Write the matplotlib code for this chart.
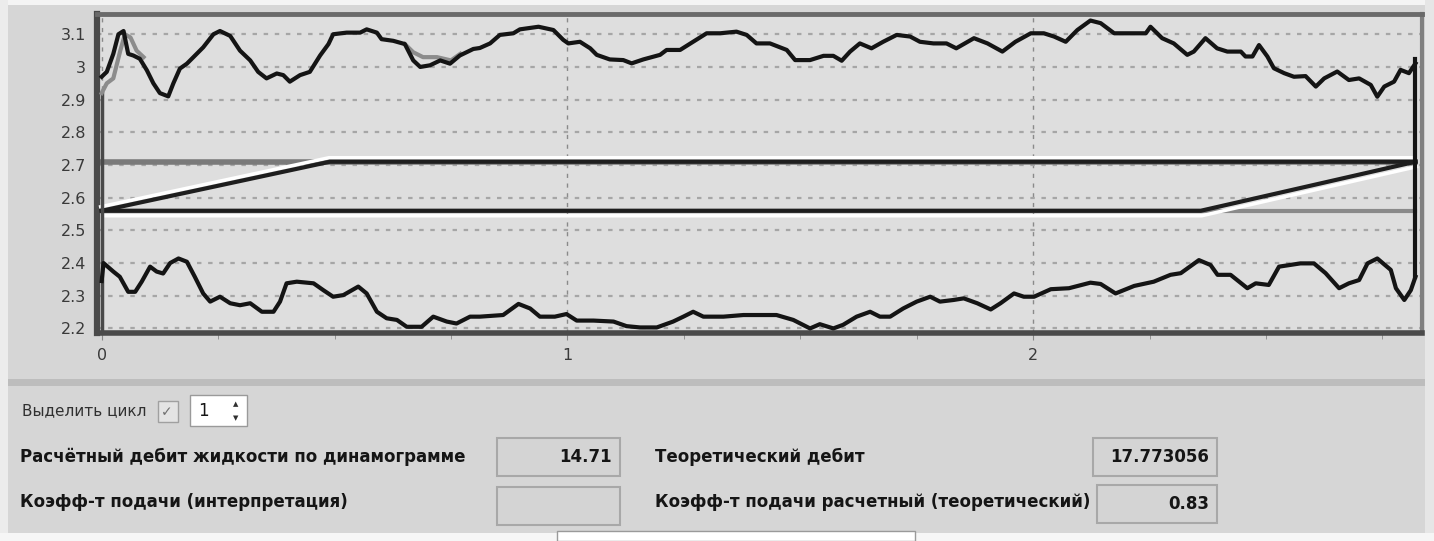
import matplotlib.pyplot as plt
import matplotlib.patches as patches
import matplotlib.transforms as mtransforms

# верхняя ветвь динамограммы
up_x = [0.000, 0.011, 0.025, 0.036, 0.047, 0.057, 0.068, 0.082, 0.097, 0.111, 0.125, 0.143,
        0.154, 0.168, 0.183, 0.197, 0.218, 0.240, 0.254, 0.276, 0.297, 0.319, 0.336, 0.354,
        0.376, 0.390, 0.404, 0.426, 0.447, 0.469, 0.487, 0.497, 0.526, 0.555, 0.569, 0.591,
        0.601, 0.626, 0.651, 0.669, 0.684, 0.705, 0.727, 0.748, 0.769, 0.798, 0.812, 0.834,
        0.855, 0.884, 0.898, 0.938, 0.970, 0.991, 1.002, 1.027, 1.049, 1.063, 1.091, 1.120,
        1.138, 1.163, 1.199, 1.213, 1.242, 1.270, 1.299, 1.328, 1.363, 1.385, 1.406, 1.435,
        1.471, 1.489, 1.521, 1.550, 1.571, 1.589, 1.607, 1.628, 1.653, 1.678, 1.707, 1.736,
        1.757, 1.786, 1.814, 1.835, 1.873, 1.902, 1.934, 1.962, 1.995, 2.023, 2.045, 2.070,
        2.095, 2.123, 2.145, 2.174, 2.209, 2.242, 2.252, 2.277, 2.302, 2.331, 2.345, 2.370,
        2.395, 2.417, 2.446, 2.456, 2.471, 2.485, 2.503, 2.517, 2.539, 2.560, 2.585, 2.607,
        2.625, 2.653, 2.678, 2.700, 2.725, 2.739, 2.754, 2.775, 2.789, 2.807, 2.821]
up_y = [2.970, 2.985, 3.040, 3.100, 3.110, 3.040, 3.035, 3.025, 2.990, 2.950, 2.920, 2.910,
        2.950, 2.995, 3.010, 3.030, 3.060, 3.100, 3.110, 3.095, 3.050, 3.020, 2.985, 2.965,
        2.980, 2.975, 2.955, 2.975, 2.985, 3.035, 3.070, 3.100, 3.105, 3.105, 3.115, 3.105,
        3.085, 3.080, 3.070, 3.020, 3.000, 3.005, 3.020, 3.010, 3.035, 3.055, 3.058, 3.072,
        3.098, 3.103, 3.115, 3.123, 3.113, 3.083, 3.072, 3.077, 3.057, 3.037, 3.023, 3.021,
        3.011, 3.023, 3.037, 3.052, 3.052, 3.077, 3.103, 3.103, 3.108, 3.098, 3.072, 3.072,
        3.052, 3.021, 3.021, 3.034, 3.034, 3.019, 3.047, 3.072, 3.057, 3.077, 3.098, 3.093,
        3.077, 3.072, 3.072, 3.057, 3.088, 3.072, 3.047, 3.077, 3.103, 3.103, 3.093, 3.077,
        3.113, 3.142, 3.134, 3.103, 3.103, 3.103, 3.123, 3.088, 3.072, 3.037, 3.047, 3.088,
        3.057, 3.047, 3.047, 3.032, 3.032, 3.067, 3.032, 2.996, 2.981, 2.970, 2.972, 2.940,
        2.965, 2.986, 2.960, 2.965, 2.945, 2.909, 2.940, 2.955, 2.991, 2.981, 3.011]

# нижняя ветвь
lo_x = [0.000, 0.004, 0.025, 0.039, 0.057, 0.072, 0.086, 0.104, 0.118, 0.132, 0.147, 0.165,
        0.183, 0.200, 0.218, 0.233, 0.254, 0.276, 0.297, 0.319, 0.344, 0.369, 0.383, 0.397,
        0.419, 0.455, 0.476, 0.497, 0.519, 0.551, 0.569, 0.591, 0.612, 0.634, 0.655, 0.687,
        0.712, 0.741, 0.762, 0.791, 0.812, 0.862, 0.895, 0.920, 0.941, 0.973, 0.998, 1.020,
        1.056, 1.099, 1.127, 1.156, 1.192, 1.227, 1.249, 1.270, 1.292, 1.335, 1.378, 1.449,
        1.485, 1.521, 1.542, 1.571, 1.592, 1.621, 1.650, 1.671, 1.693, 1.721, 1.750, 1.779,
        1.800, 1.829, 1.851, 1.880, 1.909, 1.930, 1.959, 1.980, 2.002, 2.038, 2.077, 2.123,
        2.145, 2.177, 2.217, 2.259, 2.295, 2.317, 2.356, 2.381, 2.396, 2.424, 2.460, 2.478,
        2.506, 2.528, 2.574, 2.603, 2.628, 2.657, 2.678, 2.700, 2.718, 2.739, 2.768, 2.779,
        2.797, 2.811, 2.821]
lo_y = [2.345, 2.400, 2.374, 2.358, 2.312, 2.312, 2.343, 2.389, 2.374, 2.368, 2.400, 2.414,
        2.404, 2.358, 2.307, 2.282, 2.297, 2.277, 2.271, 2.277, 2.251, 2.251, 2.282, 2.338,
        2.343, 2.338, 2.317, 2.297, 2.302, 2.328, 2.307, 2.251, 2.231, 2.226, 2.205, 2.205,
        2.236, 2.221, 2.215, 2.236, 2.236, 2.241, 2.275, 2.261, 2.236, 2.236, 2.244, 2.224,
        2.224, 2.221, 2.207, 2.203, 2.203, 2.221, 2.236, 2.251, 2.236, 2.236, 2.241, 2.241,
        2.226, 2.200, 2.213, 2.200, 2.211, 2.236, 2.251, 2.236, 2.236, 2.261, 2.282, 2.297,
        2.282, 2.287, 2.292, 2.277, 2.258, 2.277, 2.307, 2.297, 2.297, 2.320, 2.323, 2.340,
        2.336, 2.307, 2.330, 2.343, 2.364, 2.369, 2.409, 2.394, 2.364, 2.364, 2.323, 2.338,
        2.333, 2.389, 2.399, 2.399, 2.369, 2.323, 2.338, 2.348, 2.399, 2.414, 2.379, 2.323,
        2.287, 2.317, 2.358]

# серая кривая (видна только местами)
gray1_x = [0.000, 0.011, 0.025, 0.040, 0.050, 0.062, 0.075, 0.090]
gray1_y = [2.920, 2.950, 2.965, 3.050, 3.100, 3.090, 3.050, 3.030]
gray2_x = [0.651, 0.669, 0.690, 0.720, 0.750, 0.770]
gray2_y = [3.070, 3.045, 3.030, 3.030, 3.020, 3.040]

# теоретическая динамограмма
theo_up_x = [0.0, 0.49, 2.821]
theo_up_y = [2.56, 2.71, 2.71]
theo_lo_x = [0.0, 2.36, 2.821]
theo_lo_y = [2.56, 2.56, 2.71]
x_end = 2.821

labels = ['Выделить цикл', 'Расчётный дебит жидкости по динамограмме', 'Теоретический дебит',
          'Коэфф-т подачи (интерпретация)', 'Коэфф-т подачи расчетный (теоретический)']
values = ['14.71', '17.773056', '', '0.83']

W, H = 1434, 541
fig = plt.figure(figsize=(W / 100, H / 100), dpi=100)
fig.patch.set_facecolor('#d6d6d6')

def fx(x):
    return x / W

def fy(y):
    return 1 - y / H

def rect(x0, y0, x1, y1, fc, ec='none', lw=0, z=0):
    fig.patches.append(patches.Rectangle((fx(x0), fy(y1)), fx(x1) - fx(x0), fy(y0) - fy(y1),
                                         transform=fig.transFigure, facecolor=fc,
                                         edgecolor=ec, linewidth=lw, zorder=z))

# рамки окна
rect(0, 0, W, 5, '#f4f4f4')
rect(0, 0, 8, H, '#ececec')
rect(1425, 0, W, H, '#e6e6e6')
rect(8, 379, 1425, 386, '#bdbdbd')
rect(0, 533, W, H, '#f6f6f6')
rect(557, 531, 915, H, 'white', '#9a9a9a', 1)

ax = fig.add_axes([fx(97), fy(333), fx(1422) - fx(97), fy(14) - fy(333)])
ax.set_facecolor('#dedede')
ax.set_xlim(-0.010, 2.835)
ax.set_ylim(2.186, 3.162)
ax.set_yticks([2.2, 2.3, 2.4, 2.5, 2.6, 2.7, 2.8, 2.9, 3.0, 3.1])
ax.set_yticklabels(['2.2', '2.3', '2.4', '2.5', '2.6', '2.7', '2.8', '2.9', '3', '3.1'])
ax.set_xticks([0, 1, 2])
ax.set_xticks([0.25, 0.5, 0.75, 1.25, 1.5, 1.75, 2.25, 2.5, 2.75], minor=True)
ax.tick_params(axis='y', length=0, pad=8, labelsize=11.5, labelcolor='#3a3a3a')
ax.tick_params(axis='x', which='major', length=5, pad=6, labelsize=11.5, labelcolor='#3a3a3a',
               color='#888888')
ax.tick_params(axis='x', which='minor', length=4, color='#888888')
ax.grid(axis='y', linestyle=(0, (2, 3)), color='#a6a6a6', linewidth=1.6)
ax.grid(axis='x', which='major', linestyle=(0, (3, 4)), color='#8a8a8a', linewidth=1)
ax.set_axisbelow(True)
for side, c, w in [('top', '#6a6a6a', 3.5), ('left', '#4a4a4a', 4.5),
                   ('bottom', '#4a4a4a', 4), ('right', '#808080', 3)]:
    ax.spines[side].set_color(c)
    ax.spines[side].set_linewidth(w)

# серый прямоугольник и теоретическая динамограмма
ax.plot([0, x_end], [2.71, 2.71], color='#7a7a7a', lw=4, zorder=2)
ax.plot([0, x_end], [2.56, 2.56], color='#8a8a8a', lw=3, zorder=2)
up_off = mtransforms.offset_copy(ax.transData, fig=fig, x=-1, y=4, units='dots')
lo_off = mtransforms.offset_copy(ax.transData, fig=fig, x=1, y=-5, units='dots')
ax.plot(theo_up_x, theo_up_y, color='white', lw=2.5, transform=up_off, zorder=3)
ax.plot(theo_lo_x, theo_lo_y, color='white', lw=2.5, transform=lo_off, zorder=3)
ax.plot(theo_up_x, theo_up_y, color='#1e1e1e', lw=3, zorder=4)
ax.plot(theo_lo_x, theo_lo_y, color='#1e1e1e', lw=3, zorder=4)

# левая граница и замыкание динамограммы
ax.plot([0, 0], [2.186, 2.92], color='#4a4a4a', lw=2.5, zorder=4)
ax.plot(gray1_x, gray1_y, color='#8c8c8c', lw=3, zorder=5)
ax.plot(gray2_x, gray2_y, color='#8c8c8c', lw=3, zorder=5)
ax.plot(up_x, up_y, color='#141414', lw=3, zorder=6)
ax.plot(lo_x, lo_y, color='#141414', lw=3, zorder=6)
ax.plot([x_end, x_end], [lo_y[-1], up_y[-1] + 0.012], color='#141414', lw=3, zorder=6)

# нижняя панель
txt = dict(transform=fig.transFigure, va='center', color='#151515', family='DejaVu Sans')
fig.text(fx(22), fy(411), labels[0], fontsize=11, transform=fig.transFigure, va='center',
         color='#303030', family='DejaVu Sans')
rect(158, 401, 178, 422, '#e4e4e4', '#a0a0a0', 1, z=1)
fig.text(fx(161), fy(412), '✓', fontsize=10, color='#707070', transform=fig.transFigure,
         va='center', family='DejaVu Sans')
rect(190, 395, 247, 426, 'white', '#9a9a9a', 1, z=1)
fig.text(fx(198), fy(411), '1', fontsize=12, transform=fig.transFigure, va='center',
         color='#151515', family='DejaVu Sans')
fig.text(fx(236), fy(404), '▲', fontsize=5, transform=fig.transFigure, ha='center',
         va='center', color='#303030')
fig.text(fx(236), fy(418), '▼', fontsize=5, transform=fig.transFigure, ha='center',
         va='center', color='#303030')

fig.text(fx(20), fy(457), labels[1], fontsize=12, weight='bold', **txt)
fig.text(fx(655), fy(457), labels[2], fontsize=12, weight='bold', **txt)
fig.text(fx(20), fy(502), labels[3], fontsize=12, weight='bold', **txt)
fig.text(fx(655), fy(502), labels[4], fontsize=12, weight='bold', **txt)

boxes = [(497, 438, 620, 476), (1093, 438, 1217, 476), (497, 487, 620, 525), (1097, 485, 1217, 523)]
for (x0, y0, x1, y1), v in zip(boxes, values):
    rect(x0, y0, x1, y1, '#d4d4d4', '#a8a8a8', 1.5, z=1)
    fig.text(fx(x1 - 8), fy((y0 + y1) / 2), v, fontsize=12, weight='bold', ha='right', **txt)

fig.savefig('out.png', dpi=100, facecolor=fig.get_facecolor())
